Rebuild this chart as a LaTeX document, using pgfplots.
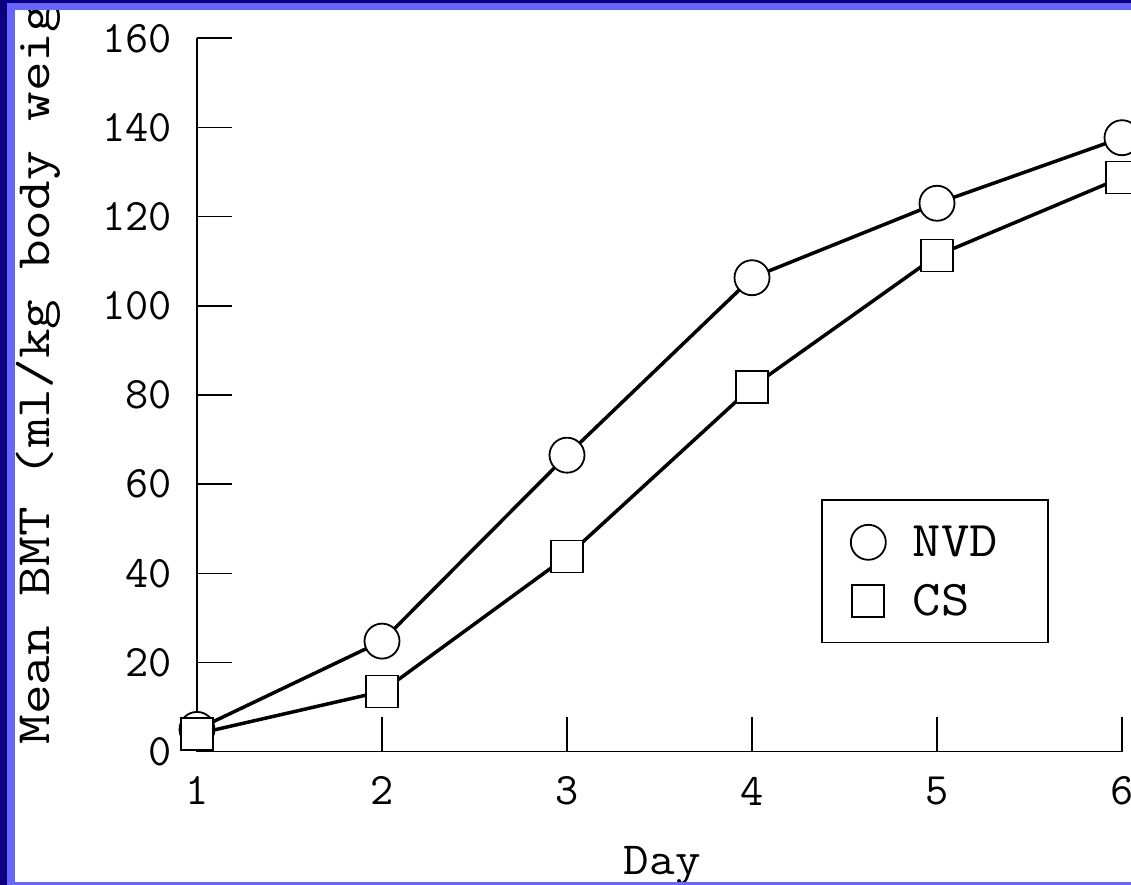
\documentclass[border=0pt]{standalone}
\usepackage{pgfplots}
\pgfplotsset{compat=1.18}
\usepackage{fontspec}
\renewcommand{\familydefault}{\ttdefault}
\definecolor{navyb}{RGB}{12,0,128}
\definecolor{lightb}{RGB}{102,102,255}
\begin{document}
\begin{tikzpicture}[x=1pt,y=1pt]
\ttfamily
\useasboundingbox (0,0) rectangle (1131,885);
\fill[white] (0,0) rectangle (1131,885);
\begin{scope}
\clip (15,3) rectangle (1131,875);
\begin{axis}[
  at={(197pt,133.3pt)}, anchor=south west,
  scale only axis, width=925pt, height=713.4pt,
  xmin=1, xmax=6, ymin=0, ymax=160,
  axis lines=left, axis line style={-, line width=1.6pt},
  tick align=inside, major tick length=35pt,
  tick style={line width=1.6pt, black},
  xtick={1,2,3,4,5,6}, ytick={0,20,40,60,80,100,120,140,160},
  clip=false,
  /pgf/number format/assume math mode=true,
  ticklabel style={font=\ttfamily\fontsize{45}{47}\selectfont},
  yticklabel style={anchor=east, inner sep=0pt, xshift=-25pt},
  xticklabel style={anchor=north, inner sep=0pt, yshift=-25pt},
  every axis y label/.style={at={(rel axis cs:-0.159,0.0098)}, rotate=90, anchor=base west, inner sep=0pt, font=\ttfamily\fontsize{48}{50}\selectfont},
  every axis x label/.style={at={(rel axis cs:0.503,-0.1725)}, anchor=base, inner sep=0pt, font=\ttfamily\fontsize{46}{48}\selectfont},
  ylabel={\scalebox{1.2}[1]{Mean BMT (ml/kg body weight)}},
  xlabel={\scalebox{1.08}[1]{Day}},
  legend cell align=left,
  legend image code/.code={\draw[#1, only marks] plot coordinates {(0pt,0pt)};},
  legend style={at={(rel axis cs:0.6746,0.3542)}, anchor=north west, draw=black, line width=1.6pt, fill=white,
    inner xsep=29pt, inner ysep=25pt, row sep=25pt, column sep=27pt,
    font=\ttfamily\fontsize{50}{52}\selectfont, nodes={inner sep=0pt}},
]
\addplot[black, line width=3.5pt, mark=*, mark size=17.5pt, mark options={solid, fill=white, draw=black, line width=1.8pt}]
  coordinates {(1,5) (2,24.8) (3,66.5) (4,106.3) (5,123.0) (6,137.7)};
\addlegendentry{\makebox[106pt][l]{\scalebox{1.1}[1]{NVD}}}
\addplot[black, line width=3.5pt, mark=square*, mark size=16pt, mark options={solid, fill=white, draw=black, line width=1.8pt}]
  coordinates {(1,4) (2,13.5) (3,43.8) (4,81.8) (5,111.3) (6,128.8)};
\addlegendentry{\makebox[106pt][l]{\scalebox{1.1}[1]{CS}}}
\end{axis}
\end{scope}
\fill[navyb] (0,0) rectangle (7,885);
\fill[navyb] (0,882) rectangle (1131,885);
\fill[lightb] (7,0) rectangle (15,882);
\fill[lightb] (7,875) rectangle (1131,882);
\fill[lightb] (7,0) rectangle (1131,3);
\end{tikzpicture}
\end{document}
